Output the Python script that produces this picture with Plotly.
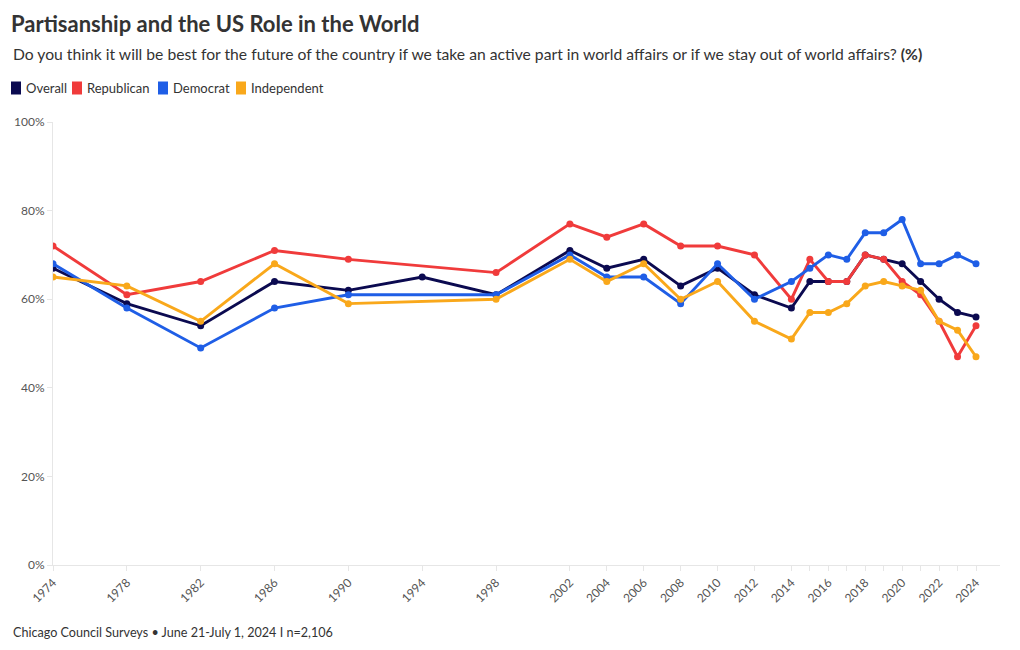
import plotly.graph_objects as go

years = [1974, 1978, 1982, 1986, 1990, 1994, 1998, 2002, 2004, 2006, 2008, 2010, 2012,
         2014, 2015, 2016, 2017, 2018, 2019, 2020, 2021, 2022, 2023, 2024]
overall = [67, 59, 54, 64, 62, 65, 61, 71, 67, 69, 63, 67, 61,
           58, 64, 64, 64, 70, 69, 68, 64, 60, 57, 56]
republican = [72, 61, 64, 71, 69, None, 66, 77, 74, 77, 72, 72, 70,
              60, 69, 64, 64, 70, 69, 64, 61, 55, 47, 54]
democrat = [68, 58, 49, 58, 61, None, 61, 70, 65, 65, 59, 68, 60,
            64, 67, 70, 69, 75, 75, 78, 68, 68, 70, 68]
independent = [65, 63, 55, 68, 59, None, 60, 69, 64, 68, 60, 64, 55,
               51, 57, 57, 59, 63, 64, 63, 62, 55, 53, 47]

series_names = ["Overall", "Republican", "Democrat", "Independent"]
series_values = [overall, republican, democrat, independent]
colors = ["#0b0a50", "#f03b3b", "#1f5ee6", "#f9a81b"]

labeled_years = [1974, 1978, 1982, 1986, 1990, 1994, 1998, 2002, 2004, 2006, 2008,
                 2010, 2012, 2014, 2016, 2018, 2020, 2022, 2024]
x_tick_text = [str(y) if y in labeled_years else "" for y in years]
y_tick_vals = [0, 20, 40, 60, 80, 100]
y_tick_text = [f"{v}%" for v in y_tick_vals]

FONT = "Lato"
PLOT_L, PLOT_R, PLOT_T, PLOT_B = 53, 1000, 122, 565
PW, PH = PLOT_R - PLOT_L, PLOT_B - PLOT_T

def px_x(px):
    return (px - PLOT_L) / PW

def px_y(py):
    return (PLOT_B - py) / PH

fig = go.Figure()
for name, vals, col in zip(series_names, series_values, colors):
    xs = [y for y, v in zip(years, vals) if v is not None]
    vs = [v for v in vals if v is not None]
    fig.add_trace(go.Scatter(
        x=xs, y=vs, mode="lines+markers", name=name,
        line=dict(color=col, width=2.9),
        marker=dict(color=col, size=7),
        showlegend=False,
        hovertemplate="%{x}: %{y}%<extra>" + name + "</extra>",
    ))

# custom legend (swatch + label), laid out left to right
legend_swatch_left = [11, 72, 158, 236]
legend_y = 88
shapes = []
annotations = []
for name, col, sx in zip(series_names, colors, legend_swatch_left):
    shapes.append(dict(
        type="rect", xref="paper", yref="paper",
        x0=px_x(sx), x1=px_x(sx + 10),
        y0=px_y(legend_y + 6.5), y1=px_y(legend_y - 6.5),
        fillcolor=col, line=dict(width=0), layer="above",
    ))
    annotations.append(dict(
        text=name, xref="paper", yref="paper", x=px_x(sx + 12.5), xanchor="left",
        y=px_y(legend_y), yanchor="middle", showarrow=False,
        font=dict(size=13, color="#333333"),
    ))

annotations += [
    dict(
        text="Do you think it will be best for the future of the country if we take an active part in world affairs or if we stay out of world affairs? <b>(%)</b>",
        xref="paper", yref="paper", x=px_x(11), xanchor="left",
        y=px_y(54), yanchor="middle", showarrow=False,
        font=dict(size=15.7, color="#333333"),
    ),
    dict(
        text="Chicago Council Surveys • June 21-July 1, 2024 I n=2,106",
        xref="paper", yref="paper", x=px_x(11), xanchor="left",
        y=px_y(632), yanchor="middle", showarrow=False,
        font=dict(size=12.6, color="#333333"),
    ),
]

fig.update_layout(
    width=1020, height=650,
    paper_bgcolor="white", plot_bgcolor="white",
    font=dict(family=FONT, color="#333333"),
    margin=dict(l=PLOT_L, r=1020 - PLOT_R, t=PLOT_T, b=650 - PLOT_B),
    showlegend=False,
    title=dict(
        text="<b>Partisanship and the US Role in the World</b>",
        x=11 / 1020, xref="container", xanchor="left",
        y=1 - 24 / 650, yref="container", yanchor="middle",
        font=dict(size=22, color="#333333", family=FONT),
    ),
    xaxis=dict(
        range=[1974, 2025.3], automargin=False,
        tickmode="array", tickvals=years, ticktext=x_tick_text,
        tickangle=-45, tickfont=dict(size=12, color="#555555"),
        ticks="outside", ticklen=5, tickcolor="#e6e6e6",
        showgrid=False, zeroline=False,
        showline=True, linecolor="#e6e6e6", linewidth=1,
    ),
    yaxis=dict(
        range=[0, 100], automargin=False,
        tickmode="array", tickvals=y_tick_vals, ticktext=y_tick_text,
        tickfont=dict(size=12, color="#555555"),
        ticks="outside", ticklen=5, tickcolor="#e6e6e6",
        showgrid=False, zeroline=False,
        showline=True, linecolor="#e6e6e6", linewidth=1,
    ),
    shapes=shapes,
    annotations=annotations,
)

fig.write_html("out.html", config={"displayModeBar": False},
               post_script="document.body.style.margin='0';")
